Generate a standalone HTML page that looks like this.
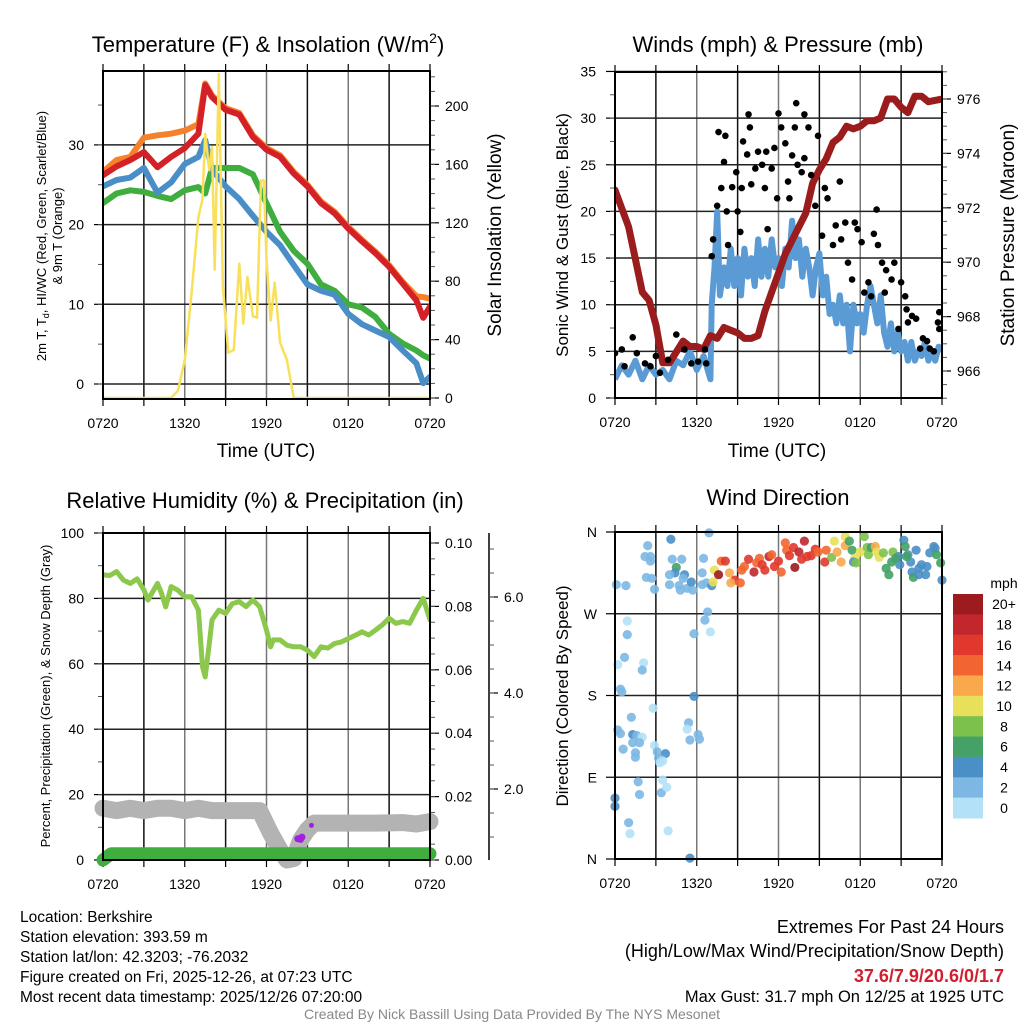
<!DOCTYPE html>
<html><head><meta charset="utf-8"><title>Mesonet Meteogram</title>
<style>
html,body{margin:0;padding:0;background:#fff;}
svg{display:block;font-family:"Liberation Sans",Arial,sans-serif;}
</style></head>
<body>
<svg id="chart" width="1024" height="1024" viewBox="0 0 1024 1024" xmlns="http://www.w3.org/2000/svg">
<defs>
<clipPath id="cTL"><rect x="103" y="71" width="327" height="328"/></clipPath>
<clipPath id="cTR"><rect x="615" y="72" width="327" height="326"/></clipPath>
<clipPath id="cBL"><rect x="103" y="533" width="327" height="327"/></clipPath>
<clipPath id="cBR"><rect x="610" y="527" width="337" height="337"/></clipPath>
</defs>
<rect width="1024" height="1024" fill="#fff"/>
<text x="268" y="52" font-size="22" text-anchor="middle">Temperature (F) &amp; Insolation (W/m<tspan font-size="14" dy="-9">2</tspan><tspan dy="9">)</tspan></text>
<text x="778" y="52" font-size="22" text-anchor="middle">Winds (mph) &amp; Pressure (mb)</text>
<text x="265" y="508" font-size="22" text-anchor="middle">Relative Humidity (%) &amp; Precipitation (in)</text>
<text x="778" y="505" font-size="22" text-anchor="middle">Wind Direction</text>
<text x="266" y="457" font-size="19" text-anchor="middle">Time (UTC)</text>
<text x="777" y="457" font-size="19" text-anchor="middle">Time (UTC)</text>
<text transform="translate(46,236) rotate(-90)" font-size="13" text-anchor="middle">2m T, T<tspan font-size="9" dy="3">d</tspan><tspan dy="-3">, HI/WC (Red, Green, Scarlet/Blue)</tspan></text>
<text transform="translate(62,236) rotate(-90)" font-size="13" text-anchor="middle">&amp; 9m T (Orange)</text>
<text transform="translate(501,235) rotate(-90)" font-size="19" text-anchor="middle">Solar Insolation (Yellow)</text>
<text transform="translate(568,235) rotate(-90)" font-size="17" text-anchor="middle">Sonic Wind &amp; Gust (Blue, Black)</text>
<text transform="translate(1014,235) rotate(-90)" font-size="19" text-anchor="middle">Station Pressure (Maroon)</text>
<text transform="translate(50,696) rotate(-90)" font-size="13" text-anchor="middle">Percent, Precipitation (Green), &amp; Snow Depth (Gray)</text>
<text transform="translate(568,696) rotate(-90)" font-size="17" text-anchor="middle">Direction (Colored By Speed)</text>
<g font-size="15.5">
<text x="20" y="922">Location: Berkshire</text>
<text x="20" y="942">Station elevation: 393.59 m</text>
<text x="20" y="962">Station lat/lon: 42.3203; -76.2032</text>
<text x="20" y="982">Figure created on Fri, 2025-12-26, at 07:23 UTC</text>
<text x="20" y="1002">Most recent data timestamp: 2025/12/26 07:20:00</text>
</g>
<g font-size="18" text-anchor="end">
<text x="1004" y="933">Extremes For Past 24 Hours</text>
<text x="1004" y="957">(High/Low/Max Wind/Precipitation/Snow Depth)</text>
<text x="1004" y="982" fill="#d02030" font-weight="bold">37.6/7.9/20.6/0/1.7</text>
<text x="1004" y="1002" font-size="16.5">Max Gust: 31.7 mph On 12/25 at 1925 UTC</text>
</g>
<text x="512" y="1019" font-size="14" fill="#888" text-anchor="middle">Created By Nick Bassill Using Data Provided By The NYS Mesonet</text>
<g id="layer"></g>
</svg>
<script>
// ---------- DATA ----------
const timeLabels=['0720','1320','1920','0120','0720'];
const timeLabelHours=[0,6,12,18,24];
const tempTicks=[0,10,20,30];
const solarTicks=[0,40,80,120,160,200];
const windTicks=[0,5,10,15,20,25,30,35];
const pressTicks=[966,968,970,972,974,976];
const rhTicks=[0,20,40,60,80,100];
const precipTicks=[0.00,0.02,0.04,0.06,0.08,0.10];
const snowTicks=[2,4,6];
const dirTickDeg=[0,90,180,270,360];
const dirLabels=['N','E','S','W','N'];

const tempHours=[0,1,2,3,4,5,6,7,7.5,8,9,10,11,12,13,14,15,16,17,18,19,20,21,22,23,23.5,24];
const temp9m=[26.6,28.1,28.5,30.9,31.2,31.4,31.8,32.6,37.7,36.2,34.6,34.0,31.2,29.6,28.7,26.6,25.0,22.9,21.6,19.7,18.1,16.6,14.9,12.8,11.0,10.9,10.7];
const temp2m=[26.2,27.3,28.1,29.1,27.2,28.5,29.6,31.4,37.5,36.0,34.4,33.8,31.0,29.4,28.5,26.4,24.8,22.7,21.4,19.5,17.9,16.4,14.7,12.6,10.5,8.3,9.7];
const dewpoint=[22.7,23.9,24.3,24.1,23.6,23.2,24.3,24.7,23.9,27.1,27.1,27.1,26.3,22.7,19.1,16.7,15.1,12.5,11.7,10.0,9.6,8.4,6.3,5.1,4.2,3.6,3.2];
const windChill=[24.8,25.6,25.9,27.1,24.0,25.3,27.6,28.5,30.6,26.9,24.8,23.2,21.1,19.1,17.4,14.9,12.5,11.7,11.2,8.8,7.5,6.7,5.9,4.2,2.6,0.1,0.9];
const solarHours=[0,5,5.5,6,6.5,7,7.3,7.5,7.8,8,8.2,8.5,8.8,9.2,9.6,10,10.3,10.6,11,11.3,11.6,11.8,12,12.3,12.6,13,13.5,14,24];
const solar=[0,0,5,26,72,124,136,181,156,172,88,222,76,31,33,92,51,83,56,55,149,149,95,53,79,38,26,0,0];

const windHours=[0,0.5,1,1.5,2,2.5,3,3.5,4,4.5,5,5.5,6,6.5,7,7.1,7.3,7.5,7.7,8,8.25,8.5,8.75,9,9.25,9.5,9.75,10,10.25,10.5,10.75,11,11.25,11.5,11.75,12,12.25,12.5,12.75,13,13.25,13.5,13.75,14,14.25,14.5,14.75,15,15.25,15.5,15.75,16,16.25,16.5,16.75,17,17.25,17.5,17.75,18,18.25,18.5,18.75,19,19.25,19.5,19.75,20,20.25,20.5,20.75,21,21.25,21.5,21.75,22,22.25,22.5,22.75,23,23.25,23.5,23.75,24];
const windSpeed=[2,3.5,2.5,4,2,3.5,2.5,3,2,4,3.5,5,3,4.5,2,10,14,20,11,14,12,16,12,15,11,16,13,15,12,17,13,16,13,17,14,15,12,16,14,19,15,17,13,16,14,11,14,15.5,11,13,9,10,8,11,8,10,5,10,8,9,7,10,12,10,8,11,7,5.5,8,5,7,5,6,4,6,4,5,4.5,6,4,5,4,5.5,5];
const gustHours=[0,0.5,0.7,1.3,1.6,2.2,2.6,3,3.3,3.9,4.5,5.1,5.6,6.1,6.6,6.7,7.1,7.2,7.5,7.6,8,8.1,7.8,8.2,8.3,8.6,8.9,9,9.2,9.3,9.4,9.7,9.8,9.9,10,10.3,10.5,10.8,11,11.1,11.2,11.5,11.7,11.9,12,12.2,12.5,12.7,12.8,13,13.2,13.3,13.4,13.7,13.9,13.9,14.2,14.4,14.7,14.9,15.2,15.4,15.6,16,16.2,16.5,16.6,16.9,17.1,17.4,17.6,17.8,18.1,18.3,18.6,18.8,19.2,19,19.3,19.6,19.8,19.9,20.3,20.5,20.8,21,21.3,21.4,21.5,21.8,22.1,22.4,22.6,22.9,23.1,23.4,23.7,23.8,23.8];
const gust=[4.8,5.2,3.4,6.5,4.8,3.7,3.4,4.5,2.7,4.1,6.8,5.2,3.7,3.9,5.2,3.7,15.2,17,20.6,28.5,25.3,28.1,22.5,20,16.4,22.6,24.2,20,17.8,22.5,27.5,26.1,30.4,29,22.9,24.6,26.4,25,22.5,26.4,18.1,24.6,26.8,21.4,30.5,29,27.3,23.2,21.4,26,29,31.6,25,24.2,30.4,25.7,29,23.9,20.6,28.1,17.4,22.5,21.4,16.4,18.5,23.2,17,18.8,14.5,12.7,18.8,18.1,16.7,11.3,12.4,10.9,20.2,17.6,16.4,14.5,11.3,13.7,12.7,14.5,7.4,12.4,10.9,9.5,8.1,8.8,8.5,5.3,6.4,6.1,5.3,5,8.1,7.4,9.2];
const pressHours=[0,1,2,2.5,3,3.5,4,4.5,5,5.5,6,6.5,7,7.5,8,8.5,9,9.5,10,10.5,11,11.5,12,12.5,13,13.5,14,14.5,15,15.5,16,16.5,17,17.5,18,18.5,19,19.5,20,20.5,21,21.5,22,22.5,23,24];
const pressure=[972.65,971.3,968.9,968.6,967.7,966.3,966.3,966.7,967.1,966.9,966.9,966.8,967.3,967.2,967.6,967.5,967.4,967.2,967.2,967.3,968.2,968.9,969.6,970.3,970.8,971.3,971.8,972.9,973.4,973.8,974.4,974.6,975.0,974.9,975.0,975.2,975.2,975.3,976.0,976.0,975.7,975.5,976.1,976.1,975.9,976.0];

const rhHours=[0,0.5,1,1.5,2,2.5,3,3.3,4,4.3,4.6,5,5.5,6,6.5,7,7.3,7.5,7.8,8,8.5,9,9.5,10,10.5,11,11.5,12,12.3,12.5,13,13.5,14,14.5,15,15.5,16,16.5,17,17.5,18,18.5,19,19.5,20,20.5,21,21.5,22,22.5,23,23.5,24];
const rh=[87.2,87,88.2,85.6,84.6,86,82.6,79.5,84.6,81.5,77.4,83.6,82.5,80.5,80.5,76.4,59.1,56,66.2,73.4,76.4,75.4,78.4,79,77.5,79.5,77.4,70.3,65.2,67.3,67.3,65.7,65.2,65.2,64.2,62.2,65.2,64.8,66.2,66.7,67.7,68.7,69.8,68.8,70.3,71.9,73.9,72.4,72.9,72.4,76.4,80,73.4];
const snowHours=[0,1,2,3,4,5,6,7,8,9,10,11,11.5,12.3,13,13.5,14,14.5,15,15.5,16,18,20,22,23,24];
const snowDepth=[1.6,1.55,1.6,1.55,1.6,1.6,1.55,1.6,1.55,1.55,1.55,1.55,1.55,1.08,0.73,0.52,0.55,0.94,1.15,1.29,1.29,1.29,1.29,1.3,1.27,1.32];
const precipHours=[0,0.6,24];
const precip=[0,0.002,0.002];
const markerHours=[14.3,14.5,14.6,15.3];
const markerVals=[6.5,6.3,7.0,10.6];

const dirHours=[0.1,0.8,2.4,2.2,2.6,2.6,2.3,2.7,2.9,4.1,4.2,4.9,4.5,4.4,5.1,4.0,5.0,4.0,4.7,4.8,5.3,5.7,5.6,6.4,6.5,6.9,6.4,6.7,7.1,0.9,0.9,6.8,6.6,7.0,5.8,0.2,0.7,2.1,2.0,0.4,0.5,2.8,5.8,1.2,0.2,0.4,1.3,1.6,2.0,1.3,1.8,0.6,1.5,1.5,2.9,3.1,3.7,3.2,3.3,3.5,5.4,5.3,5.5,6.1,6.2,1.7,3.5,1.8,3.4,3.8,0,0,1.0,1.1,3.9,5.5,
7.3,7.6,7.2,7.8,8.1,8.4,8.8,8.5,9.2,9.3,9.5,9.8,10.2,10.4,10.6,10.8,11.0,11.3,11.5,11.7,12.0,12.2,12.5,12.6,12.8,13.1,13.2,13.5,13.7,13.9,14.1,14.4,14.7,14.9,15.4,15.5,15.9,16.1,16.3,16.6,16.9,16.9,17.2,17.4,17.6,17.5,17.7,18.0,18.3,18.5,18.6,18.8,19.1,19.2,19.4,19.7,19.9,20.1,20.3,20.4,20.8,20.9,21.2,21.3,21.5,21.7,21.8,21.9,22.1,22.3,22.5,22.8,22.9,23.1,23.4,23.5,23.6,23.9,24.0,21.4,20.6,22.3];
const dirDeg=[302,301,345,333,333,328,310,309,297,352,330,330,321,315,313,313,309,302,301,296,298,296,305,315,331,359,302,304,301,262,247,272,263,250,248,214,222,216,208,187,184,166,179,156,142,138,137,136,134,128,128,121,117,112,125,118,116,111,106,108,150,143,131,137,132,85,87,71,73,79,67,58,40,28,31,1,
318,313,305,328,328,315,307,304,304,318,322,330,316,326,331,324,318,333,335,322,328,316,348,340,334,343,321,338,330,350,333,334,341,338,327,340,332,350,338,327,355,345,350,340,331,327,326,338,355,343,335,343,344,338,332,337,320,313,327,338,333,324,351,344,335,327,316,310,340,320,324,313,322,337,344,342,335,326,307,333,331,313];
const dirSpeed=[2,2,2,2,2,2,2,2,2,4,2,2,6,4,4,2,2,2,2,2,2,2,4,2,2,2,2,2,4,0,2,2,2,0,2,0,2,0,2,2,2,0,4,2,2,2,4,2,0,2,2,2,2,2,0,2,4,2,0,0,2,0,2,2,2,2,0,2,2,0,4,4,2,0,0,4,
10,20,10,14,16,12,16,12,14,14,14,16,18,14,14,16,16,18,14,16,16,14,14,14,16,16,20,18,16,18,16,16,16,14,16,14,8,10,12,12,10,12,6,6,10,4,8,10,8,8,8,6,12,10,10,8,6,6,6,8,4,4,4,6,4,4,4,6,4,4,4,4,4,4,4,4,6,6,4,6,6,4];
const speedColors=['#b3e1f7','#7cb8e3','#4a8fc6','#44a266','#7dc14d','#e8e05a','#f9a94b','#f26530','#e0382c','#c1272d','#9b1b1e'];
const speedLabels=['0','2','4','6','8','10','12','14','16','18','20+'];

// ---------- SCALES ----------
const NS='http://www.w3.org/2000/svg';
const layer=document.getElementById('layer');
const xL=h=>103+h*327/24;
const xR=h=>615+h*327/24;
const yT=v=>384-v*7.97;
const yS=v=>398-v*1.46;
const yV=v=>398-v*9.33;
const yP=p=>99+(976-p)*27.2;
const yRH=v=>860-v*3.27;
const yPr=v=>860-v*3170;
const ySn=v=>885-v*48;
const yD=d=>859-d/360*327;

function mk(tag,attrs,parent){const e=document.createElementNS(NS,tag);for(const k in attrs)e.setAttribute(k,attrs[k]);(parent||layer).appendChild(e);return e;}
function grp(clip){const g=mk('g',clip?{'clip-path':'url(#'+clip+')'}:{});return g;}
function pathD(hs,vs,xf,yf){let d='';const n=Math.min(hs.length,vs.length);for(let i=0;i<n;i++){d+=(i?'L':'M')+xf(hs[i]).toFixed(1)+','+yf(vs[i]).toFixed(1);}return d;}

function frame(x0,y0,x1,y1,xf,hGrid,yf,id){
  for(let h=3;h<24;h+=3){
    const gl=mk('line',{x1:xf(h),x2:xf(h),y1:y0,y2:y1,stroke:(h%6===0)?'#777':'#111','stroke-width':1.5});
    
    
  }
  for(const v of hGrid){
    const yy=yf(v);
    const gl=mk('line',{x1:x0,x2:x1,y1:yy,y2:yy,stroke:'#222','stroke-width':1.5});
    
    
  }
  for(let h=0;h<=24;h+=3){
    const t1=mk('line',{x1:xf(h),x2:xf(h),y1:y1,y2:y1+7,stroke:'#000','stroke-width':1.2});
    
    
    const t2=mk('line',{x1:xf(h),x2:xf(h),y1:y0,y2:y0-7,stroke:'#000','stroke-width':1.2});
    
    
  }
  for(let i=0;i<timeLabels.length;i++){
    const tl=mk('text',{x:xf(timeLabelHours[i]),y:y1+29,'font-size':14,'text-anchor':'middle'});
    tl.textContent=timeLabels[i];
    
    
  }
}
function border(x0,y0,x1,y1,id){
  const b=mk('rect',{x:x0,y:y0,width:x1-x0,height:y1-y0,fill:'none',stroke:'#000','stroke-width':2});
  
  
}
function yAxis(ticks,yf,x,side,fmt,minorStep,lo,hi,id,y0,y1){
  const dir=side==='left'?-1:1;
  for(const v of ticks){
    const yy=yf(v);
    const t=mk('line',{x1:x,x2:x+dir*9,y1:yy,y2:yy,stroke:'#000','stroke-width':1.2});
    
    
    const lb=mk('text',{x:x+dir*(side==='left'?19:15),y:yy+5,'font-size':14,'text-anchor':side==='left'?'end':'start'});
    lb.textContent=fmt(v);
    
    
  }
  for(let v=lo;v<=hi+1e-9;v+=minorStep){
    const yy=yf(v);
    if(yy<y0-0.5||yy>y1+0.5)continue;
    const t=mk('line',{x1:x,x2:x+dir*5,y1:yy,y2:yy,stroke:'#555','stroke-width':1});
    
    
  }
}

// ===== PANEL 1 =====
frame(103,71,430,399,xL,tempTicks,yT,'temp');
yAxis(tempTicks,yT,103,'left',v=>String(v),5,-5,40,'temp-axis',71,399);
yAxis(solarTicks,yS,430,'right',v=>String(v),10,0,230,'solar-axis',71,399);
{
  const g=grp('cTL');
  const series=[[temp9m,'#f5822a','line-9m-temp'],[temp2m,'#d42027','line-2m-temp'],[dewpoint,'#3fae3f','line-dewpoint'],[windChill,'#4a8ec8','line-windchill']];
  for(const s of series){
    const p=mk('path',{d:pathD(tempHours,s[0],xL,yT),fill:'none',stroke:s[1],'stroke-width':6,'stroke-linejoin':'round','stroke-linecap':'round'},g);
    
    
  }
  const sp=mk('path',{d:pathD(solarHours,solar,xL,yS),fill:'none',stroke:'#f9e05a','stroke-width':2.5,'stroke-linejoin':'round'},g);
  
  
}
border(103,71,430,399,'temp');

// ===== PANEL 2 =====
frame(615,72,942,398,xR,windTicks,yV,'wind');
yAxis(windTicks,yV,615,'left',v=>String(v),2.5,0,35,'wind-axis',72,398);
yAxis(pressTicks,yP,942,'right',v=>String(v),0.5,965,977,'pressure-axis',72,398);
{
  const g=grp('cTR');
  const wp=mk('path',{d:pathD(windHours,windSpeed,xR,yV),fill:'none',stroke:'#5b9bd5','stroke-width':6,'stroke-linejoin':'round'},g);
  
  
  const pp=mk('path',{d:pathD(pressHours,pressure,xR,yP),fill:'none',stroke:'#9b1c1c','stroke-width':7,'stroke-linejoin':'round','stroke-linecap':'round'},g);
  
  
  for(let i=0;i<gust.length;i++){
    const c=mk('circle',{cx:xR(gustHours[i]),cy:yV(gust[i]),r:3.3,fill:'#000'},g);
    
    
  }
}
border(615,72,942,398,'wind');

// ===== PANEL 3 =====
frame(103,533,430,860,xL,rhTicks,yRH,'humidity');
yAxis(rhTicks,yRH,103,'left',v=>String(v),10,0,100,'rh-axis',533,860);
yAxis(precipTicks,yPr,430,'right',v=>v.toFixed(2),0.005,0,0.1,'precip-axis',533,860);
{
  const ax=mk('line',{x1:489,x2:489,y1:533,y2:860,stroke:'#000','stroke-width':1.5});
  
  
  yAxis(snowTicks,ySn,489,'right',v=>v.toFixed(1),0.5,0,7,'snow-axis',533,860);
  const g0=grp(null);
  const sn=mk('path',{d:pathD(snowHours,snowDepth,xL,ySn),fill:'none',stroke:'#b3b3b3','stroke-width':17,'stroke-linejoin':'round','stroke-linecap':'round'},g0);
  
  
  const pr=mk('path',{d:pathD(precipHours,precip,xL,yPr),fill:'none',stroke:'#3fae3f','stroke-width':13,'stroke-linejoin':'round','stroke-linecap':'round'},g0);
  
  
  const g=grp('cBL');
  for(let i=0;i<markerHours.length;i++){
    const c=mk('circle',{cx:xL(markerHours[i]),cy:yRH(markerVals[i]),r:i===3?2.5:3.5,fill:'#a020e0'},g);
    
    
  }
  const rp=mk('path',{d:pathD(rhHours,rh,xL,yRH),fill:'none',stroke:'#8cc84b','stroke-width':5,'stroke-linejoin':'round','stroke-linecap':'round'},g);
  
  
}
border(103,533,430,860,'humidity');

// ===== PANEL 4 =====
frame(615,532,942,859,xR,dirTickDeg,yD,'direction');
for(let i=0;i<dirLabels.length;i++){
  const yy=yD(dirTickDeg[i]);
  const t=mk('line',{x1:615,x2:606,y1:yy,y2:yy,stroke:'#000','stroke-width':1.2});
  
  
  const lb=mk('text',{x:597,y:yy+5,'font-size':14,'text-anchor':'end'});
  lb.textContent=dirLabels[i];
  
  
}
{
  const g=grp('cBR');
  for(let i=0;i<dirDeg.length;i++){
    const idx=Math.min(10,Math.round(dirSpeed[i]/2));
    const c=mk('circle',{cx:xR(dirHours[i]),cy:yD(dirDeg[i]),r:4.6,fill:speedColors[idx],'fill-opacity':0.9},g);
    
    
  }
}
border(615,532,942,859,'direction');

{
  const ut=mk('text',{x:1004,y:588,'font-size':14,'text-anchor':'middle'});
  ut.textContent='mph';
  
  
  const bh=224/11;
  for(let i=0;i<speedColors.length;i++){
    const k=speedColors.length-1-i;
    const y=594+i*bh;
    const r=mk('rect',{x:953,y:y,width:30,height:bh+0.5,fill:speedColors[k]});
    
    
    const lb=mk('text',{x:1004,y:y+bh/2+5,'font-size':14,'text-anchor':'middle'});
    lb.textContent=speedLabels[k];
    
    
  }
}
</script>
</body></html>
